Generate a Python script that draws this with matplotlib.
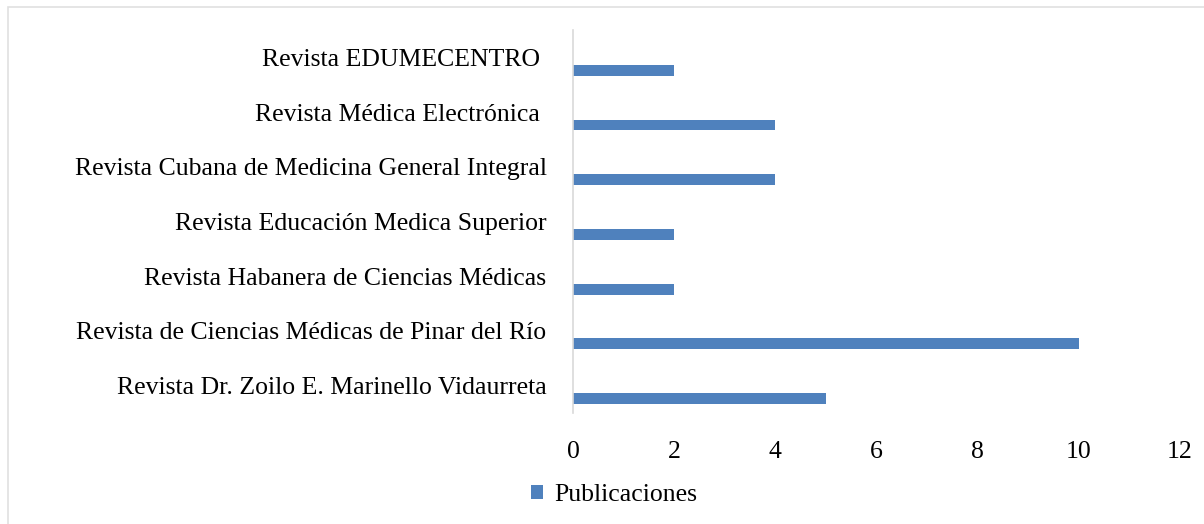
import matplotlib.pyplot as plt
import matplotlib.patches as mpatches
import numpy as np

# datos (de abajo hacia arriba)
revistas = [
    "Revista Dr. Zoilo E. Marinello Vidaurreta",
    "Revista de Ciencias Médicas de Pinar del Río",
    "Revista Habanera de Ciencias Médicas",
    "Revista Educación Medica Superior",
    "Revista Cubana de Medicina General Integral",
    "Revista Médica Electrónica ",
    "Revista EDUMECENTRO ",
]
publicaciones = [5, 10, 2, 2, 4, 4, 2]
xticks = [0, 2, 4, 6, 8, 10, 12]

plt.rcParams['font.family'] = ['Liberation Serif', 'DejaVu Serif']

fig = plt.figure(figsize=(12.04, 5.24), dpi=100)
ax = fig.add_axes([573 / 1204, 1 - 413 / 524, (1180 - 573) / 1204, (413 - 30) / 524])

y = np.arange(len(revistas))
ax.barh(y - 0.236, publicaciones, height=0.2, color='#4F81BD', label='Publicaciones')

ax.set_xlim(0, 12)
ax.set_ylim(-0.5, len(revistas) - 0.5)
ax.set_yticks(y)
ax.set_yticklabels(revistas, fontsize=18.5)
ax.set_xticks(xticks)
ax.set_xticklabels([str(v) for v in xticks], fontsize=18.5)
ax.tick_params(axis='y', length=0, pad=19)
ax.tick_params(axis='x', length=0, pad=20)

for s in ['top', 'right', 'bottom']:
    ax.spines[s].set_visible(False)
ax.spines['left'].set_color('#D9D9D9')
ax.spines['left'].set_linewidth(1.2)

# borde del área del gráfico
fig.patches.append(mpatches.Rectangle((8 / 1204, -0.05), 1.2, 1 - 7 / 524 + 0.05,
                                      transform=fig.transFigure, fill=False,
                                      edgecolor='#E0E0E0', linewidth=1.2))

fig.legend(loc='center', bbox_to_anchor=(614 / 1204, 1 - 495 / 524), frameon=False,
           fontsize=18.5, handlelength=0.45, handleheight=0.45, handletextpad=0.45)

fig.savefig('out.png', dpi=100)
